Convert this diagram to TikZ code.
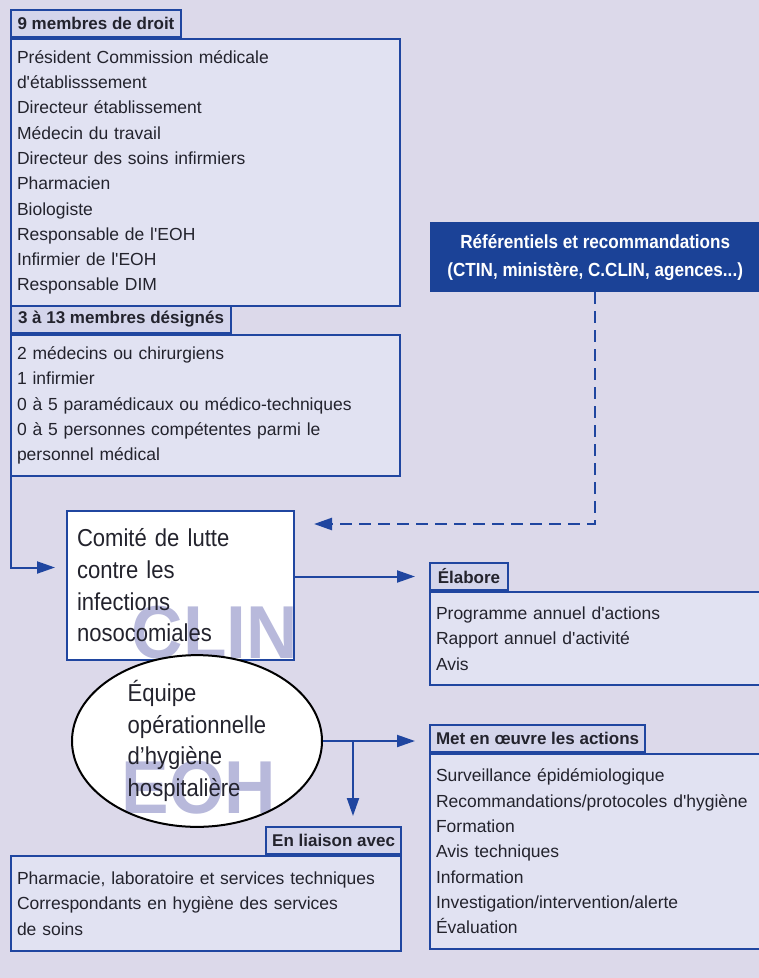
\documentclass[tikz,border=0pt]{standalone}
\usepackage{fontspec}
\setmainfont{Liberation Sans}[Ligatures=TeXOff]
\newfontfamily\bigfont{Liberation Sans}[FakeStretch=0.9,Ligatures=TeXOff]
\newfontfamily\markfont{Liberation Sans}[FakeStretch=0.95]
\usetikzlibrary{shapes.geometric,arrows.meta,positioning}
\definecolor{bgcol}{RGB}{220,217,234}
\definecolor{boxcol}{RGB}{225,226,242}
\definecolor{tabcol}{RGB}{212,213,235}
\definecolor{linecol}{RGB}{32,70,160}
\definecolor{refcol}{RGB}{27,66,151}
\definecolor{markcol}{RGB}{184,185,219}
\definecolor{txtcol}{RGB}{35,35,45}
\begin{document}
\begin{tikzpicture}[
            x=1pt, y=-1pt,
            panel/.style={rectangle, draw=linecol, line width=2pt, fill=boxcol, anchor=north west, align=left, inner xsep=6pt, inner ysep=0pt, text=txtcol, font=\fontsize{17.5}{25.3}\selectfont},
            tab/.style={rectangle, draw=linecol, line width=2pt, fill=tabcol, inner xsep=6pt, inner ysep=0pt, minimum height=27pt, text=txtcol, font=\bfseries\fontsize{17}{20}\selectfont},
            mark text/.style={rectangle, text width={}, align=center, minimum width=0pt, minimum height=0pt, inner sep=0pt, text=markcol, font=\markfont\bfseries\fontsize{75}{75}\selectfont},
            flow/.style={draw=linecol, line width=2pt, -{Triangle[length=18pt, width=12pt]}},
            dash flow/.style={flow, line width=2.5pt, dash pattern=on 12pt off 7pt}
        ]
        \clip (0,0) rectangle (759,978);
        \fill[bgcol] (0,0) rectangle (759,978);
        
        % Members
        \node[panel, text width=377pt, minimum height=267pt] (droit) at (10,38) {Président Commission médicale\\ d'établisssement\\ Directeur établissement\\ Médecin du travail\\ Directeur des soins infirmiers\\ Pharmacien\\ Biologiste\\ Responsable de l'EOH\\ Infirmier de l'EOH\\ Responsable DIM};
        \node[tab, anchor=south west, minimum width=170pt] (tabDroit) at (droit.north west) {9 membres de droit};
        
        \node[panel, text width=377pt, minimum height=141pt] (desig) at (10,334) {2 médecins ou chirurgiens\\ 1 infirmier\\ 0 à 5 paramédicaux ou médico-techniques\\ 0 à 5 personnes compétentes parmi le\\ personnel médical};
        \node[tab, anchor=south west, minimum width=220pt] (tabDesig) at (desig.north west) {3 à 13 membres désignés};
        
        % Referentials
        \node[rectangle, fill=refcol, anchor=north west, minimum width=330pt, minimum height=70pt, align=center, text=white, font=\bigfont\bfseries\fontsize{19}{28}\selectfont] (ref) at (430,222) {Référentiels et recommandations\\ (CTIN, ministère, C.CLIN, agences...)};
        
        % CLIN
        \node[rectangle, draw=linecol, line width=2pt, fill=white, anchor=north west, align=left, text width=207pt, minimum height=149pt, inner xsep=10pt, inner ysep=0pt, text=txtcol, font=\bigfont\fontsize{24.5}{31.7}\selectfont,
            path picture={\node[mark text, anchor=base east] at ([xshift=5pt, yshift=2pt]path picture bounding box.south east) {CLIN};}] (clin) at (66,510) {Comité de lutte\\ contre les\\ infections\\ nosocomiales};
        
        % EOH
        \node[ellipse, draw=black, line width=2pt, fill=white, minimum width=250pt, minimum height=164pt, inner sep=0pt, align=left, text=txtcol, font=\bigfont\fontsize{24.5}{31.7}\selectfont,
            path picture={\node[mark text, anchor=base] at ([xshift=2pt, yshift=-72pt]path picture bounding box.center) {EOH};}] (eoh) at (197,741) {Équipe\\ opérationnelle\\ d’hygiène\\ hospitalière};
        
        % Tasks
        \node[panel, text width=328pt, minimum height=93pt] (elab) at (429,591) {Programme annuel d'actions\\ Rapport annuel d'activité\\ Avis};
        \node[tab, anchor=south west, minimum width=78pt] (tabElab) at (elab.north west) {Élabore};
        
        \node[panel, text width=328pt, minimum height=195pt] (met) at (429,753) {Surveillance épidémiologique\\ Recommandations/protocoles d'hygiène\\ Formation\\ Avis techniques\\ Information\\ Investigation/intervention/alerte\\ Évaluation};
        \node[tab, anchor=south west, minimum width=215pt] (tabMet) at (met.north west) {Met en œuvre les actions};
        
        \node[panel, text width=378pt, minimum height=95pt] (liaison) at (10,855) {Pharmacie, laboratoire et services techniques\\ Correspondants en hygiène des services\\ de soins};
        \node[tab, anchor=south east, minimum width=133pt] (tabLiaison) at (liaison.north east) {En liaison avec};
        
        % Connectors
        \draw[flow, shorten >=11pt] ([xshift=1pt]desig.south west) |- ([yshift=18pt]clin.west);
        \draw[dash flow, shorten >=19pt] (ref.south) |- ([yshift=-14pt]clin.north east);
        \draw[flow, shorten >=14pt] (clin.east |- tabElab.west) -- (tabElab.west);
        \draw[flow, shorten >=14pt] (eoh.east) -- (eoh.east -| tabMet.west);
        \coordinate (fork) at (353,741);
        \draw[flow, shorten >=10pt] (fork) -- (fork |- tabLiaison.north);
        
        \end{tikzpicture}
\end{document}
